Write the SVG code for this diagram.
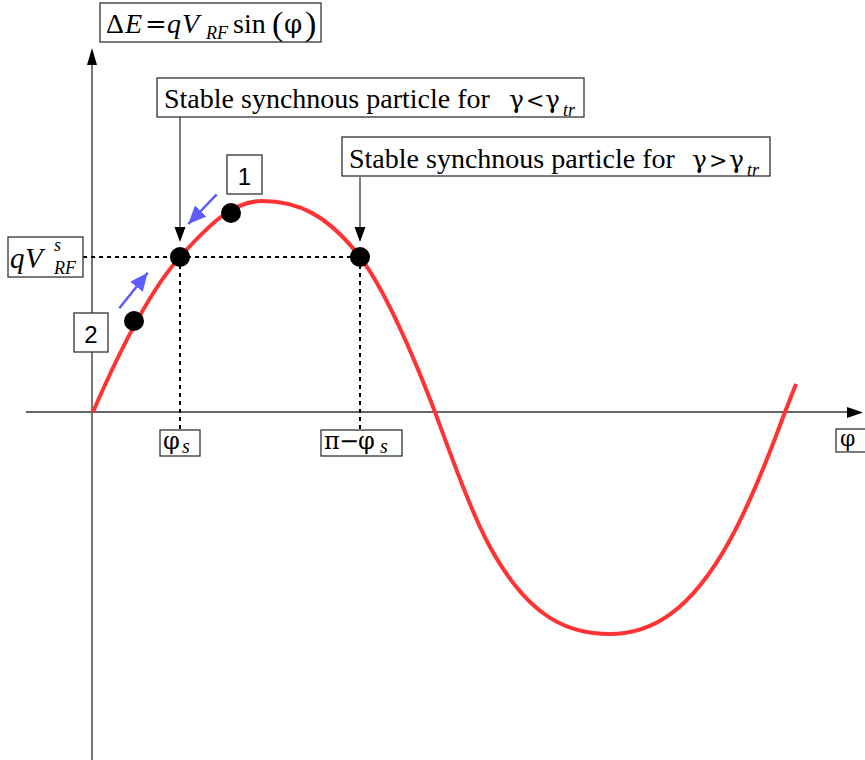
<svg xmlns="http://www.w3.org/2000/svg" width="865" height="760" viewBox="0 0 865 760">
<style>
.box{fill:#fff;stroke:#333;stroke-width:1.3}
.axis{stroke:#666;stroke-width:1.8;fill:none}
.ser{font-family:"Liberation Serif",serif;fill:#000}
.gr{font-family:"DejaVu Serif",serif;font-style:normal}
.it{font-style:italic}
.sans{font-family:"Liberation Sans",sans-serif;fill:#000;font-size:24px}
.dash{stroke:#000;stroke-width:2;stroke-dasharray:4 4;fill:none}
.ptr{stroke:#555;stroke-width:1.5;fill:none}
.dot{fill:#000}
.blue{stroke:#5c5cff;stroke-width:2.5;fill:none}
</style>
<defs>
<marker id="bh" viewBox="0 0 18 16" refX="18" refY="8" markerWidth="18" markerHeight="16" markerUnits="userSpaceOnUse" orient="auto">
<path d="M0,0 L18,8 L0,16 Z" fill="#5c5cff"/>
</marker>
</defs>
<g id="connectors">
<line class="axis" x1="92" y1="760" x2="92" y2="62"/>
<path d="M92,48 L97,65 L87,65 Z" fill="#000"/>
<line class="axis" x1="26" y1="412" x2="849" y2="412"/>
<path d="M863,412.5 L847,407 L847,418 Z" fill="#000"/>
<polyline class="dash" points="83,257 360,257"/>
<line class="dash" x1="180" y1="257" x2="180" y2="430"/>
<line class="dash" x1="360" y1="257" x2="360" y2="430"/>
<line class="ptr" x1="180" y1="117" x2="180" y2="228"/>
<path d="M180,242 L174.5,227 L185.5,227 Z" fill="#000"/>
<line class="ptr" x1="360" y1="177" x2="360" y2="228"/>
<path d="M360,242 L354.5,227 L365.5,227 Z" fill="#000"/>
<line class="blue" x1="216.7" y1="194.3" x2="188.3" y2="224" marker-end="url(#bh)"/>
<line class="blue" x1="119.3" y1="308.3" x2="147.7" y2="272.7" marker-end="url(#bh)"/>
</g>
<g id="curve">
<path d="M93,412 C122,345 151,289 180,257 C207,227 232,201 262,201 C297,201 327,214 360,257 C385,290 410,347 435,412 C453,461 472,514 490,547 C530,620 570,634 610,634 C650,634 690,613 730,540 C748,507 767,461 785,412 L796,384" fill="none" stroke="#ff3333" stroke-width="4"/>
</g>
<g id="dots">
<circle class="dot" cx="231" cy="213" r="10"/>
<circle class="dot" cx="180" cy="257" r="10"/>
<circle class="dot" cx="360" cy="257" r="10"/>
<circle class="dot" cx="134" cy="321" r="10"/>
</g>
<g id="formula">
<rect class="box" x="100" y="3" width="221" height="39"/>
<text class="ser" font-size="28" y="33"><tspan x="106">Δ</tspan><tspan x="125" class="it">E</tspan><tspan x="145" class="gr" font-size="26">=</tspan><tspan x="167" class="it">q</tspan><tspan x="182" class="it">V</tspan><tspan x="206" y="39" class="it" font-size="18">RF</tspan><tspan x="233" y="33">sin</tspan><tspan x="272" y="35" font-size="34">(</tspan><tspan x="284" y="33" class="gr" font-size="26">φ</tspan><tspan x="305" y="35" font-size="34">)</tspan></text>
</g>
<g id="label-lt">
<rect class="box" x="157" y="78" width="427" height="39"/>
<text class="ser" font-size="28" y="108"><tspan x="164">Stable synchnous particle for</tspan><tspan x="509" class="gr" font-size="25">γ</tspan><tspan x="526" class="gr" font-size="22">&lt;</tspan><tspan x="545" class="gr" font-size="25">γ</tspan><tspan x="563" y="116" class="it" font-size="18">tr</tspan></text>
</g>
<g id="label-gt">
<rect class="box" x="342" y="137" width="428" height="39"/>
<text class="ser" font-size="28" y="168"><tspan x="349">Stable synchnous particle for</tspan><tspan x="692" class="gr" font-size="25">γ</tspan><tspan x="709" class="gr" font-size="22">&gt;</tspan><tspan x="729" class="gr" font-size="25">γ</tspan><tspan x="747" y="176" class="it" font-size="18">tr</tspan></text>
</g>
<g id="label-qv">
<rect class="box" x="8" y="237" width="75" height="40"/>
<text class="ser it" font-size="29" y="268"><tspan x="10">q</tspan><tspan x="25">V</tspan><tspan x="54" y="251" font-size="18">s</tspan><tspan x="54" y="274" font-size="18">RF</tspan></text>
</g>
<g id="label-1">
<rect class="box" x="227" y="155" width="35" height="39"/>
<text class="sans" x="244.5" y="185" text-anchor="middle">1</text>
</g>
<g id="label-2">
<rect class="box" x="74" y="313" width="34" height="39"/>
<text class="sans" x="91" y="343" text-anchor="middle">2</text>
</g>
<g id="label-phis">
<rect class="box" x="160" y="430" width="40" height="26"/>
<text class="ser" font-size="24" y="449"><tspan x="163" class="gr">φ</tspan><tspan x="182" y="453" class="it" font-size="20">s</tspan></text>
</g>
<g id="label-piphis">
<rect class="box" x="321" y="430" width="81" height="26"/>
<text class="ser" font-size="24" y="449"><tspan x="324" class="gr">π</tspan><tspan x="339" class="gr">−</tspan><tspan x="358" class="gr">φ</tspan><tspan x="380" y="453" class="it" font-size="20">s</tspan></text>
</g>
<g id="label-phi">
<rect class="box" x="836" y="429" width="32" height="23"/>
<text class="ser gr" font-size="22" x="840" y="446">φ</text>
</g>
</svg>
